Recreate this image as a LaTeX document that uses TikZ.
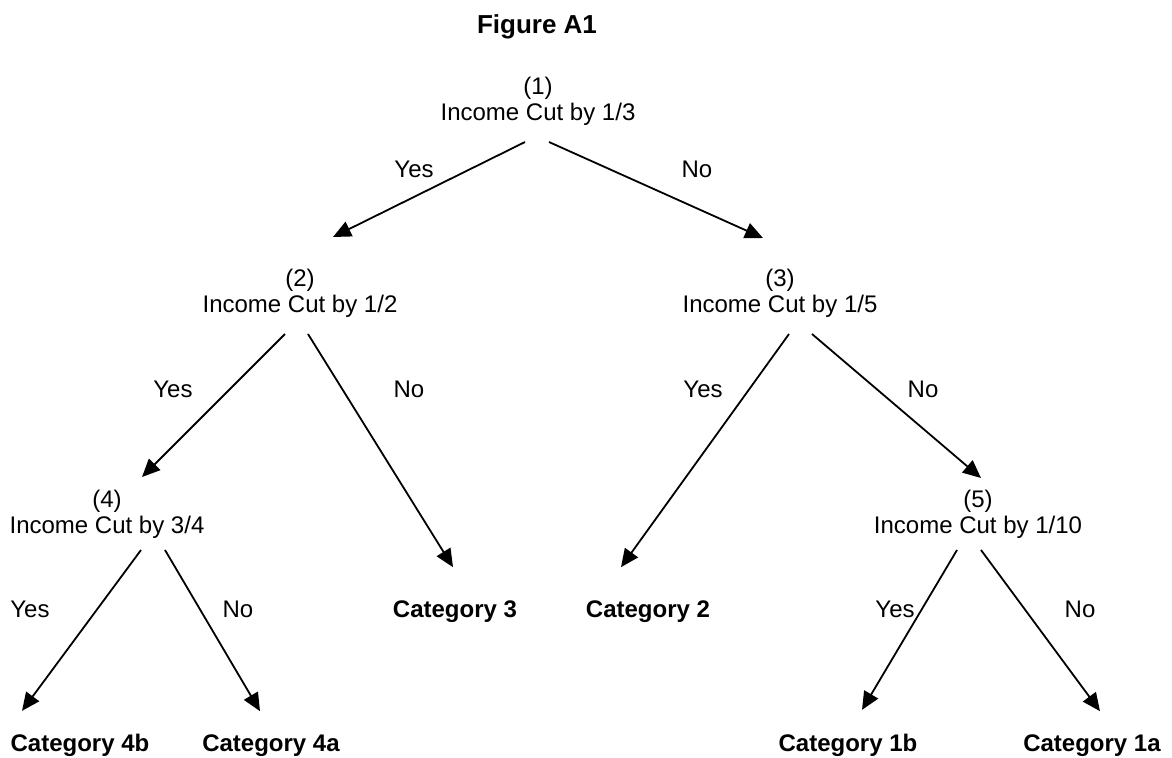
\documentclass[tikz,border=0pt]{standalone}
\usepackage{fontspec}
\setmainfont{Liberation Sans}
\usetikzlibrary{arrows.meta,calc}

\begin{document}
\begin{tikzpicture}[x=0.5pt,y=-0.5pt,font=\fontsize{12}{13}\selectfont,
  every node/.style={inner sep=0pt},
  ans/.style={anchor=base},
  cat/.style={anchor=base,font=\fontsize{12}{13}\selectfont\bfseries},
  >={Triangle[length=9pt,width=8pt]},line width=0.9pt]
\useasboundingbox (0,0) rectangle (1172,757);
\node[anchor=base,font=\fontsize{13}{15}\selectfont\bfseries] (title) at (537,33) {Figure A1};

% questions
\node[align=center] (q1) at (538,101) {(1)\\Income Cut by 1/3};
\node[align=center] (q2) at (300,293) {(2)\\Income Cut by 1/2};
\node[align=center] (q3) at (780,293) {(3)\\Income Cut by 1/5};
\node[align=center] (q4) at (107,514) {(4)\\Income Cut by 3/4};
\node[align=center] (q5) at (978,514) {(5)\\Income Cut by 1/10};

% outcomes
\node[cat] (c3) at (455,617) {Category 3};
\node[cat] (c2) at (648,617) {Category 2};
\node[cat] (c4b) at (80,751) {Category 4b};
\node[cat] (c4a) at (271,751) {Category 4a};
\node[cat] (c1b) at (848,751) {Category 1b};
\node[cat] (c1a) at (1092,751) {Category 1a};

% answers
\node[ans] (yes1) at (414,177) {Yes};
\node[ans] (no1) at (697,177) {No};
\node[ans] (yes2) at (173,397) {Yes};
\node[ans] (no2) at (409,397) {No};
\node[ans] (yes3) at (703,397) {Yes};
\node[ans] (no3) at (923,397) {No};
\node[ans] (yes4) at (30,617) {Yes};
\node[ans] (no4) at (238,617) {No};
\node[ans] (yes5) at (895,617) {Yes};
\node[ans] (no5) at (1080,617) {No};

\draw[->] ($(q1)+(-13,41)$) -- ($(q2)+(33,-56)$);
\draw[->] ($(q1)+(11,41)$) -- ($(q3)+(-17,-55)$);
\draw[->] ($(q2)+(-15,41)$) -- ($(q4)+(35,-37)$);
\draw[->] ($(q2)+(8,41)$) -- ($(c3)+(-2,-44)$);
\draw[->] ($(q3)+(9,41)$) -- ($(c2)+(-27,-44)$);
\draw[->] ($(q3)+(32,41)$) -- ($(q5)+(3,-36)$);
\draw[->] ($(q4)+(34,36)$) -- ($(c4b)+(-58,-34)$);
\draw[->] ($(q4)+(58,36)$) -- ($(c4a)+(-11,-34)$);
\draw[->] ($(q5)+(-21,36)$) -- ($(c1b)+(14,-35)$);
\draw[->] ($(q5)+(3,36)$) -- ($(c1a)+(8,-34)$);

\end{tikzpicture}
\end{document}
